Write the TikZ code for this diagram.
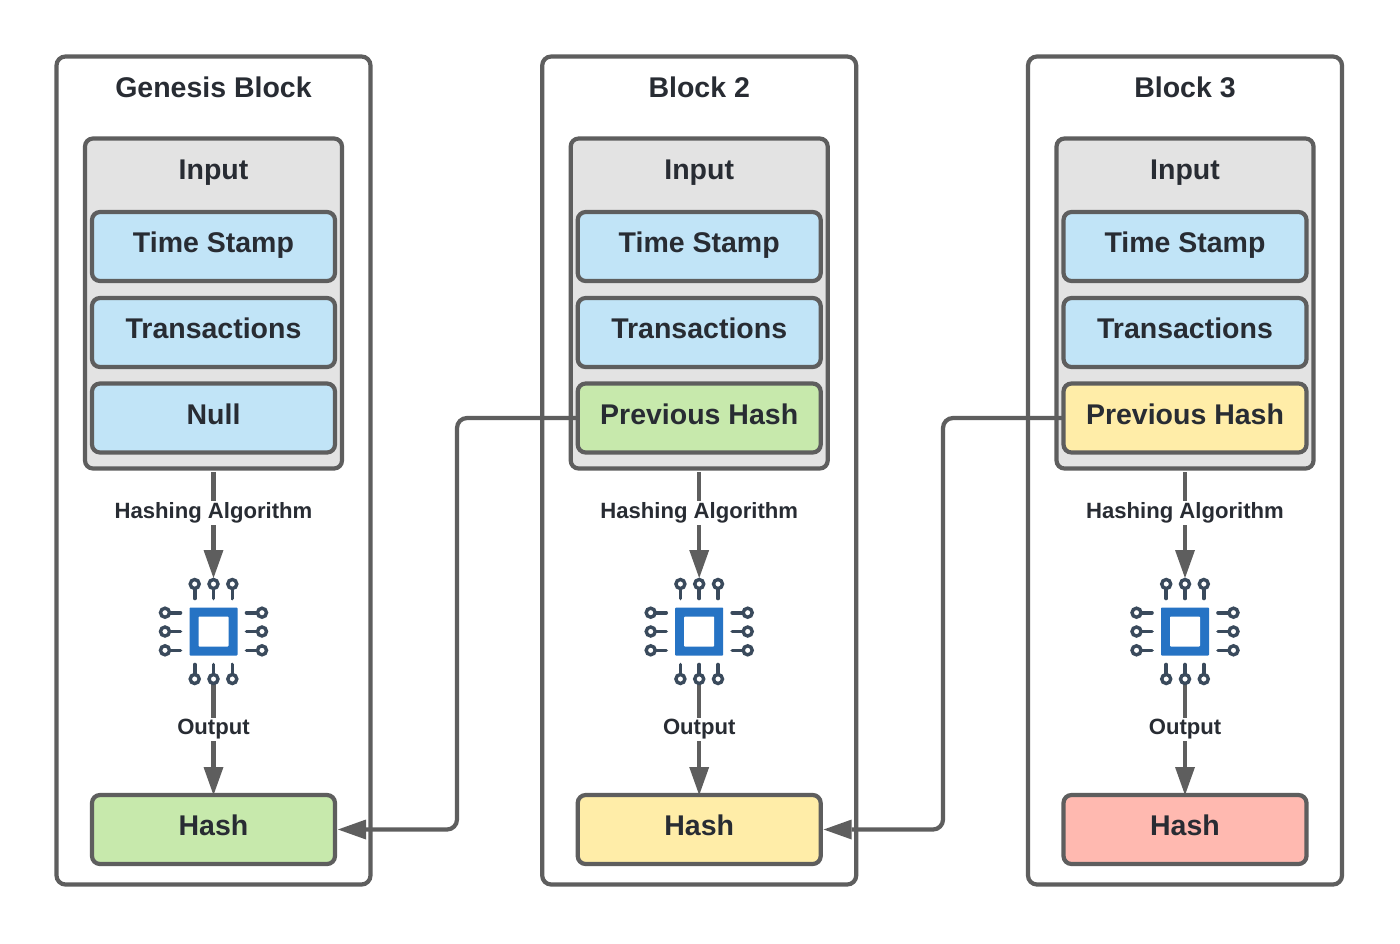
\documentclass[tikz,border=0pt]{standalone}
\usepackage{fontspec}
\setmainfont{Liberation Sans}
\usetikzlibrary{arrows.meta}
\definecolor{stroke}{HTML}{5E5E5E}
\definecolor{ink}{HTML}{282C33}
\definecolor{cblue}{HTML}{C1E4F7}
\definecolor{cgreen}{HTML}{C7E9AC}
\definecolor{cyellow}{HTML}{FFEDA8}
\definecolor{cred}{HTML}{FFB9B0}
\definecolor{cgray}{HTML}{E3E3E3}
\definecolor{chipblue}{HTML}{2673C4}
\definecolor{pin}{HTML}{3A4A5C}
\newcommand{\up}[1]{\raisebox{8pt}{\vphantom{Tp}#1}}
\tikzset{
  x=1pt,y=-1pt,
  outerbox/.style={draw=stroke,line width=4.2pt,rounded corners=9pt,fill=white,minimum width=314pt,minimum height=828pt,inner sep=0pt,outer sep=0pt},
  inputbox/.style={draw=stroke,line width=4.2pt,rounded corners=8pt,fill=cgray,minimum width=257pt,minimum height=330pt,inner sep=0pt,outer sep=0pt},
  rowbox/.style={draw=stroke,line width=4.2pt,rounded corners=8pt,minimum width=243pt,minimum height=69pt,inner sep=0pt,outer sep=0pt,text=ink,font=\fontsize{28.5}{32}\selectfont\bfseries},
  title/.style={text=ink,inner sep=0pt,font=\fontsize{28.5}{32}\selectfont\bfseries},
  small/.style={text=ink,fill=white,inner sep=1.5pt,font=\fontsize{22.1}{26}\selectfont\bfseries},
  flow/.style={draw=stroke,line width=4.2pt,-{Triangle[length=28pt,width=20pt,line width=0pt,fill=stroke]}},
  link/.style={draw=stroke,line width=4.2pt,rounded corners=10pt,-{Triangle[length=28pt,width=20pt,line width=0pt,fill=stroke]}},
  stem/.style={draw=stroke,line width=4.2pt},
  pinline/.style={draw=pin,line width=3.6pt,line cap=round},
  pinring/.style={draw=pin,line width=3.4pt,fill=white,circle,minimum size=9pt,inner sep=0pt,outer sep=0pt},
  chipouter/.style={fill=chipblue,minimum size=48pt,inner sep=0pt,outer sep=0pt,rounded corners=0.8pt},
  chipinner/.style={fill=white,minimum size=30pt,inner sep=0pt,outer sep=0pt,rounded corners=0.8pt}
}
\newcommand{\blockfig}[6]{% index, x centre, title, third label, third colour, hash colour
  \node[outerbox] (outer#1) at (#2,470.5) {};
  \node[title] (title#1) at (#2,87) {#3};
  \node[inputbox] (input#1) at (#2,303.5) {};
  \node[title] (inlabel#1) at (#2,172.5) {Input};
  \node[rowbox,fill=cblue] (time#1) at (#2,246.5) {\up{Time Stamp}};
  \node[rowbox,fill=cblue] (trans#1) at (#2,332.5) {\up{Transactions}};
  \node[rowbox,fill=#5] (third#1) at (#2,418) {\up{#4}};
  \node[rowbox,fill=#6] (hash#1) at (#2,829.5) {\up{Hash}};
  \coordinate (chip#1) at (#2,631.5);
  \coordinate (arrin#1) at (#2,472);
  \draw[flow] (arrin#1) -- ([shift={(0,-53.5)}]chip#1);
  \node[small] (hashing#1) at (#2,513) {Hashing Algorithm};
  \draw[stem] ([shift={(0,52)}]chip#1) -- ([shift={(0,90)}]chip#1);
  \draw[flow] ([shift={(0,90)}]chip#1) -- (hash#1.north);
  \node[small] (output#1) at (#2,729) {Output};
  \node[chipouter] (co#1) at (chip#1) {};
  \node[chipinner] (ci#1) at (chip#1) {};
  \foreach \d in {-18.8,0,18.8}{
    \draw[pinline] ([shift={(\d,-33)}]chip#1) -- ([shift={(\d,-44)}]chip#1);
    \node[pinring] at ([shift={(\d,-47.5)}]chip#1) {};
    \draw[pinline] ([shift={(\d,33)}]chip#1) -- ([shift={(\d,44)}]chip#1);
    \node[pinring] at ([shift={(\d,47.5)}]chip#1) {};
    \draw[pinline] ([shift={(-33,\d)}]chip#1) -- ([shift={(-44,\d)}]chip#1);
    \node[pinring] at ([shift={(-48.5,\d)}]chip#1) {};
    \draw[pinline] ([shift={(33,\d)}]chip#1) -- ([shift={(44,\d)}]chip#1);
    \node[pinring] at ([shift={(48.5,\d)}]chip#1) {};
  }
}
\begin{document}
\begin{tikzpicture}
\useasboundingbox (0,0) rectangle (1400,943);
\fill[white] (0,0) rectangle (1400,943);
\blockfig{1}{213.5}{Genesis Block}{Null}{cblue}{cgreen}
\blockfig{2}{699.2}{Block 2}{Previous Hash}{cgreen}{cyellow}
\blockfig{3}{1185}{Block 3}{Previous Hash}{cyellow}{cred}
\draw[link] (third2.west) -| (457,829.5) -- ([xshift=3pt]hash1.east);
\draw[link] (third3.west) -| (943,829.5) -- ([xshift=3pt]hash2.east);
\end{tikzpicture}
\end{document}
